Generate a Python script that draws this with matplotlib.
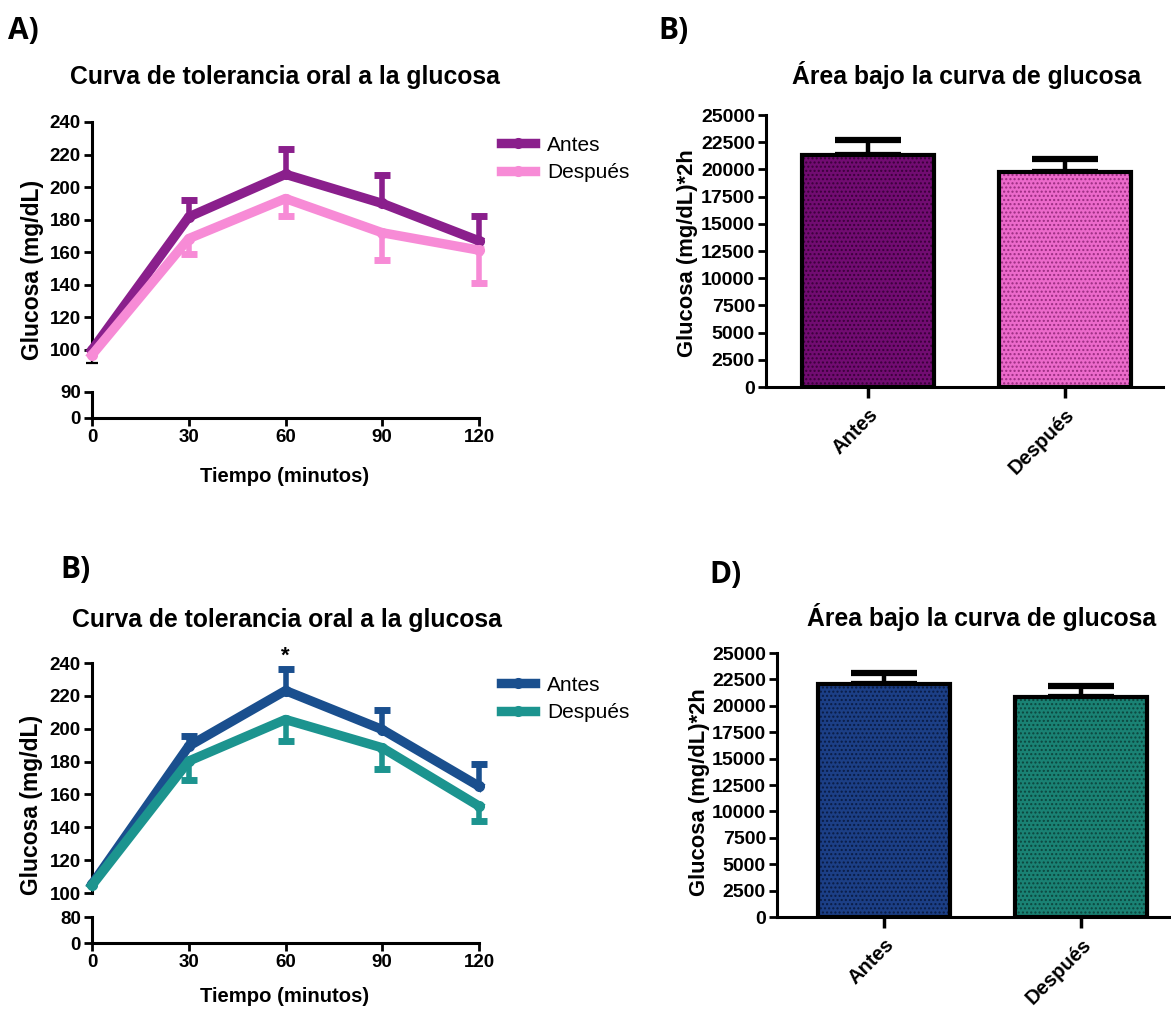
import numpy as np
import matplotlib
matplotlib.use("Agg")
import matplotlib.pyplot as plt

plt.rcParams['font.family'] = ['Liberation Sans', 'DejaVu Sans']

# ---------------- data ----------------
tiempo = [0, 30, 60, 90, 120]

# Panel A
a_antes = [100, 181.7, 207.9, 190, 167]
a_antes_err = [8, 10.5, 15.7, 17.3, 15.1]      # first one drawn downward (black)
a_despues = [97, 168.4, 193, 172, 161.3]
a_despues_err = [0, 9.6, 10.7, 16.9, 20.1]

# Panel C (second "B)")
c_antes = [105.3, 189.4, 223.2, 199.5, 165]
c_antes_err = [0, 6.4, 13.2, 12.1, 13.8]
c_despues = [104.7, 180.3, 205.6, 188.4, 152.9]
c_despues_err = [0, 11.6, 12.8, 12.8, 9.1]

grupos = ["Antes", "Después"]
b_auc = [21330, 19740]
b_auc_err = [1340, 1220]
d_auc = [22090, 20820]
d_auc_err = [1010, 1080]

upper_ticks = [100, 120, 140, 160, 180, 200, 220, 240]
auc_ticks = [0, 2500, 5000, 7500, 10000, 12500, 15000, 17500, 20000, 22500, 25000]

col_a_antes = "#8A1F8C"
col_a_desp = "#F78BD6"
col_c_antes = "#1A4F8E"
col_c_desp = "#1C948F"
bar_b = ["#720C72", "#EC6ACB"]
bar_b_dots = ["#3A003A", "#9A2C80"]
bar_d = ["#1C3F86", "#1A8274"]
bar_d_dots = ["#0A1C45", "#0C463E"]

W, H = 1171, 1010
fig = plt.figure(figsize=(W / 100, H / 100), dpi=100)


def fx(px):
    return px / W


def fy(py):
    return 1 - py / H


SPINE_W = 2.2


def style_axis(ax, fs):
    for s in ["top", "right"]:
        ax.spines[s].set_visible(False)
    for s in ["left", "bottom"]:
        ax.spines[s].set_linewidth(SPINE_W)
    ax.tick_params(width=2, length=6, labelsize=fs, pad=2)
    for lbl in ax.get_xticklabels() + ax.get_yticklabels():
        lbl.set_fontweight("bold")


def draw_curve(ax, y, err, color, up):
    y = np.asarray(y, float)
    err = np.asarray(err, float)
    if up:
        yerr = [np.zeros_like(err), err]
    else:
        yerr = [err, np.zeros_like(err)]
    mask = err > 0
    x = np.asarray(tiempo, float)
    ln, caps, bars = ax.errorbar(x[mask], y[mask], yerr=[yerr[0][mask], yerr[1][mask]],
                                 fmt="none", ecolor=color, elinewidth=4, capsize=6,
                                 capthick=5, clip_on=False, zorder=3)
    for c in caps:
        if np.allclose(c.get_ydata(), y[mask]):
            c.set_visible(False)
        c.set_clip_on(False)
    for b in bars:
        b.set_clip_on(False)
    line, = ax.plot(x, y, color=color, lw=6.8, marker="o", ms=7, mfc=color, mec=color,
                    clip_on=False, zorder=4, solid_joinstyle="round")
    return line


def broken_panel(top_rect, bot_rect, antes, antes_err, desp, desp_err,
                 c_antes, c_desp, low_top, black_err_first):
    axt = fig.add_axes(top_rect)
    axb = fig.add_axes(bot_rect)
    axt.set_xlim(0, 120)
    axb.set_xlim(0, 120)
    axt.set_ylim(100, 240)
    axb.set_ylim(0, low_top)
    axt.set_yticks(upper_ticks)
    axb.set_yticks([0, low_top])
    axt.set_xticks([])
    axt.spines["bottom"].set_visible(False)
    axb.set_xticks(tiempo)
    style_axis(axt, 13.5)
    style_axis(axb, 13.5)
    axt.patch.set_alpha(0)
    axb.patch.set_alpha(0)
    la = draw_curve(axt, antes, [0] + list(antes_err[1:]), c_antes, up=True)
    ld = draw_curve(axt, desp, desp_err, c_desp, up=False)
    if black_err_first:
        axt.errorbar([tiempo[0]], [antes[0]], yerr=[[antes_err[0]], [0]], fmt="none",
                     ecolor="black", elinewidth=1.6, capsize=4, capthick=1.6,
                     clip_on=False, zorder=2)
    return axt, axb, la, ld


LEG_KW = dict(loc="center left", frameon=False, fontsize=15, handlelength=1.65,
              handletextpad=0.55, labelspacing=0.42, borderaxespad=0, borderpad=0)

# Panel A
axA, axA2, la, ld = broken_panel([fx(92), fy(350), fx(479) - fx(92), (350 - 122) / H],
                                 [fx(92), fy(418), fx(479) - fx(92), 26 / H],
                                 a_antes, a_antes_err, a_despues, a_despues_err,
                                 col_a_antes, col_a_desp, 90, True)
fig.legend([la, ld], grupos, bbox_to_anchor=(fx(501), fy(159)), **LEG_KW)

# Panel C
axC, axC2, lc, lcd = broken_panel([fx(92), fy(893), fx(479) - fx(92), (893 - 663) / H],
                                  [fx(92), fy(943), fx(479) - fx(92), 26 / H],
                                  c_antes, c_antes_err, c_despues, c_despues_err,
                                  col_c_antes, col_c_desp, 80, False)
axC.text(60, 238, "*", ha="center", va="bottom", fontsize=16, fontweight="bold")
fig.legend([lc, lcd], grupos, bbox_to_anchor=(fx(501), fy(699)), **LEG_KW)


def bar_panel(rect, vals, errs, cols, dots, xl):
    ax = fig.add_axes(rect)
    x = np.arange(len(vals))
    for i in range(len(vals)):
        ax.bar(x[i], vals[i], width=0.67, color=cols[i], edgecolor=dots[i], hatch="....",
               linewidth=0, zorder=2)
    ax.bar(x, vals, width=0.67, fill=False, edgecolor="black", linewidth=3, zorder=3)
    ln, caps, bars = ax.errorbar(x, vals, yerr=[np.zeros(len(vals)), errs], fmt="none",
                                 ecolor="black", elinewidth=3.2, capsize=24, capthick=4.5,
                                 zorder=1, clip_on=False)
    ax.set_xlim(*xl)
    ax.set_ylim(0, 25000)
    ax.set_yticks(auc_ticks)
    ax.set_xticks(x)
    ax.set_xticklabels(grupos, rotation=45, ha="right", va="top", rotation_mode="anchor")
    style_axis(ax, 14)
    ax.tick_params(axis="x", length=8, width=2.5, pad=5, labelsize=14.5)
    ax.patch.set_alpha(0)
    return ax


axB = bar_panel([fx(766), fy(387), fx(1163) - fx(766), (387 - 115) / H],
                b_auc, b_auc_err, bar_b, bar_b_dots, (-0.518, 1.497))
axD = bar_panel([fx(777), fy(917), fx(1170) - fx(777), (917 - 653) / H],
                d_auc, d_auc_err, bar_d, bar_d_dots, (-0.543, 1.45))

# ---------------- texts ----------------
TITLE_FS = 17.8
fig.text(fx(285), fy(77), "Curva de tolerancia oral a la glucosa", ha="center",
         va="center", fontsize=TITLE_FS, fontweight="bold")
fig.text(fx(287), fy(620), "Curva de tolerancia oral a la glucosa", ha="center",
         va="center", fontsize=TITLE_FS, fontweight="bold")
fig.text(fx(967), fy(75), "Área bajo la curva de glucosa", ha="center",
         va="center", fontsize=TITLE_FS, fontweight="bold")
fig.text(fx(982), fy(617), "Área bajo la curva de glucosa", ha="center",
         va="center", fontsize=TITLE_FS, fontweight="bold")

fig.text(fx(33), fy(270), "Glucosa (mg/dL)", rotation=90, ha="center", va="center",
         fontsize=16.5, fontweight="bold")
fig.text(fx(32), fy(805), "Glucosa (mg/dL)", rotation=90, ha="center", va="center",
         fontsize=16.5, fontweight="bold")
fig.text(fx(285), fy(477), "Tiempo (minutos)", ha="center", va="center",
         fontsize=14.6, fontweight="bold")
fig.text(fx(285), fy(996), "Tiempo (minutos)", ha="center", va="center",
         fontsize=14.6, fontweight="bold")
fig.text(fx(687), fy(253), "Glucosa (mg/dL)*2h", rotation=90, ha="center", va="center",
         fontsize=15.8, fontweight="bold")
fig.text(fx(700), fy(792), "Glucosa (mg/dL)*2h", rotation=90, ha="center", va="center",
         fontsize=15.8, fontweight="bold")

PANEL_FS = 21.5
PF = ["Open Sans", "DejaVu Sans"]
fig.text(fx(8), fy(31), "A)", ha="left", va="center", fontsize=PANEL_FS, fontweight="bold",
         family=PF)
fig.text(fx(658), fy(31), "B)", ha="left", va="center", fontsize=PANEL_FS, fontweight="bold",
         family=PF)
fig.text(fx(60), fy(570), "B)", ha="left", va="center", fontsize=PANEL_FS, fontweight="bold",
         family=PF)
fig.text(fx(709), fy(575), "D)", ha="left", va="center", fontsize=PANEL_FS, fontweight="bold",
         family=PF)

fig.savefig("out.png", dpi=100)
